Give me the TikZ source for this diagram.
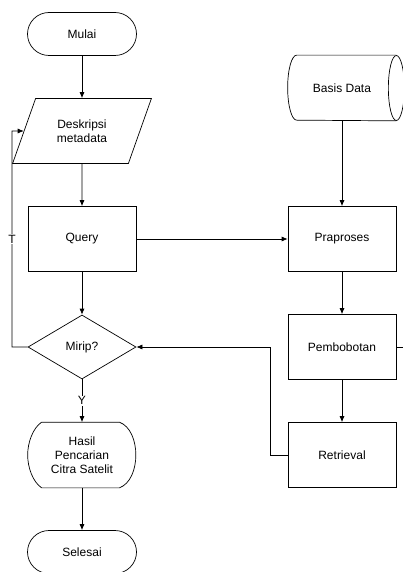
\documentclass[tikz,border=0pt]{standalone}
\usepackage{fontspec}
\setmainfont{Liberation Sans}
\usetikzlibrary{calc,arrows.meta,shapes.geometric}

\begin{document}
\begin{tikzpicture}[
x=1pt,y=-1pt,
>={Latex[length=6pt,width=5pt]},
line width=0.7pt,
font=\fontsize{12}{14}\selectfont,
terminal/.style={
	draw,
	rectangle,
	rounded corners=21.5pt,
	minimum width=109pt,
	minimum height=43pt
},
proses/.style={
	draw,
	rectangle,
	minimum width=108pt,
	minimum height=65pt
},
masukan/.style={
	draw,
	trapezium,
	trapezium left angle=64.5,
	trapezium right angle=115.5,
	trapezium stretches=true,
	minimum width=140pt,
	minimum height=65pt,
	align=center
},
keputusan/.style={
	draw,
	diamond,
	aspect=1.69,
	inner sep=0pt,
	minimum width=108pt,
	minimum height=64pt
},
kotak/.style={
	rectangle,
	minimum width=108pt,
	minimum height=65pt,
	align=center
},
alur/.style={
	->
},
teks/.style={
	fill=white,
	inner sep=1pt
}
]
\useasboundingbox (0,0) rectangle (403,572);

\node[terminal] (mulai) at (82,34) {Mulai};
\node[masukan] (deskripsi) at (82,131) {Deskripsi\\metadata};
\node[proses] (query) at (82,239) {Query};
\node[keputusan] (mirip) at (82,347) {Mirip?};
\node[kotak] (hasil) at (82,455) {Hasil\\Pencarian\\Citra Satelit};
\node[terminal] (selesai) at (82,552) {Selesai};

\node[kotak] (basis) at (342,88) {Basis Data};
\foreach \y/\n/\l in {239/praproses/Praproses,347/pembobotan/Pembobotan,455/retrieval/Retrieval}
\node[proses] (\n) at (342,\y) {\l};

\coordinate (balik) at (12,131);

% bentuk display untuk hasil
\draw ($(hasil.north west)+(14,0)$) -- ($(hasil.north east)+(-17,0)$)
	.. controls ($(hasil.north east)+(5,8)$) and ($(hasil.south east)+(5,-8)$) .. ($(hasil.south east)+(-17,0)$)
	-- ($(hasil.south west)+(14,0)$)
	.. controls ($(hasil.south west)+(5,-6)$) and ($(hasil.west)+(0,12)$) .. (hasil.west)
	.. controls ($(hasil.west)+(0,-12)$) and ($(hasil.north west)+(5,6)$) .. cycle;

% tabung basis data
\draw (basis.north east) -- ($(basis.north west)+(9,0)$)
	arc[start angle=270,end angle=90,x radius=9,y radius=32.5] -- (basis.south east);
\draw (basis.east) ellipse[x radius=8,y radius=32.5];

\draw[alur] (mulai) -- (deskripsi);
\draw[alur] (deskripsi) -- (query);
\draw[alur] (query) -- (mirip);
\draw[alur] (query) -- (praproses);
\draw[alur] (basis) -- (praproses);
\draw[alur] (praproses) -- (pembobotan);
\draw[alur] (pembobotan) -- (retrieval);
\draw (pembobotan.east) -- ++(8,0);
\draw[alur] (retrieval.west) -- ++(-17,0) |- (mirip.east);
\draw[alur] (mirip) -- node[teks] {Y} (hasil);
\draw[alur] (hasil) -- (selesai);
\draw[alur] (mirip.west) -| node[teks,pos=0.75] {T} (balik) -- (deskripsi.west);
\end{tikzpicture}
\end{document}
